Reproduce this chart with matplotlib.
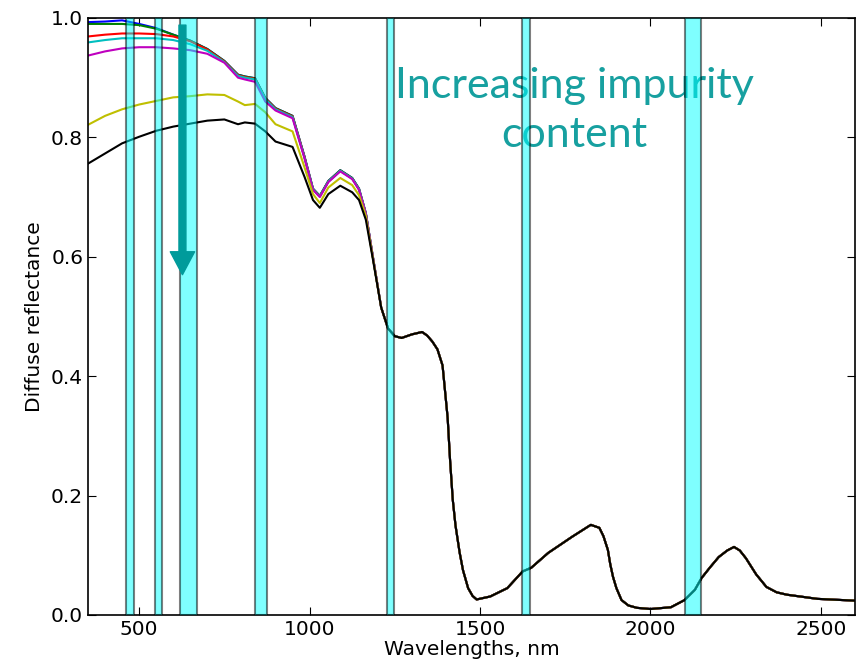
import matplotlib
matplotlib.use("Agg")
import matplotlib.pyplot as plt

# =============================================
# DATA
# =============================================
# visible (split) part of the spectra, 350..1185 nm
wl_head = [350, 400, 450, 500, 550, 600, 650, 700, 750, 790, 810, 840, 870,
           900, 950, 985, 1010, 1030, 1055, 1090, 1125, 1145, 1165, 1185]

blue_head    = [0.993, 0.994, 0.996, 0.990, 0.983, 0.972, 0.962, 0.948, 0.928, 0.905, 0.902, 0.899,
                0.866, 0.849, 0.836, 0.768, 0.714, 0.702, 0.727, 0.745, 0.732, 0.714, 0.673, 0.602]
green_head   = [0.990, 0.990, 0.990, 0.988, 0.982, 0.972, 0.962, 0.948, 0.928, 0.905, 0.902, 0.899,
                0.866, 0.849, 0.836, 0.768, 0.714, 0.702, 0.727, 0.745, 0.732, 0.714, 0.673, 0.602]
red_head     = [0.969, 0.972, 0.974, 0.974, 0.973, 0.969, 0.961, 0.947, 0.927, 0.904, 0.901, 0.898,
                0.865, 0.848, 0.835, 0.767, 0.713, 0.701, 0.726, 0.744, 0.731, 0.713, 0.672, 0.602]
cyan_head    = [0.959, 0.963, 0.966, 0.966, 0.966, 0.963, 0.956, 0.945, 0.926, 0.903, 0.900, 0.897,
                0.864, 0.847, 0.834, 0.766, 0.713, 0.701, 0.726, 0.744, 0.731, 0.713, 0.672, 0.602]
magenta_head = [0.937, 0.944, 0.949, 0.951, 0.951, 0.949, 0.946, 0.940, 0.925, 0.900, 0.897, 0.893,
                0.860, 0.845, 0.832, 0.765, 0.712, 0.700, 0.725, 0.743, 0.730, 0.712, 0.672, 0.602]
yellow_head  = [0.821, 0.836, 0.847, 0.855, 0.861, 0.867, 0.869, 0.872, 0.871, 0.860, 0.854, 0.856,
                0.842, 0.822, 0.810, 0.750, 0.705, 0.690, 0.716, 0.732, 0.720, 0.703, 0.668, 0.600]
black_head   = [0.756, 0.773, 0.790, 0.801, 0.811, 0.818, 0.823, 0.828, 0.830, 0.822, 0.825, 0.823,
                0.810, 0.793, 0.784, 0.734, 0.695, 0.682, 0.705, 0.719, 0.708, 0.695, 0.662, 0.598]

# common part (all samples coincide), 1210..2600 nm
wl_tail = [1210, 1230, 1250, 1270, 1300, 1330, 1345, 1360, 1375, 1390, 1405, 1412, 1420, 1428,
           1440, 1450, 1465, 1478, 1490, 1530, 1580, 1625, 1650, 1700, 1770, 1825, 1850, 1862,
           1875, 1882, 1890, 1900, 1915, 1935, 1960, 2000, 2060, 2100, 2130, 2150, 2175, 2200,
           2225, 2245, 2262, 2280, 2310, 2340, 2370, 2400, 2490, 2600]
refl_tail = [0.515, 0.480, 0.467, 0.464, 0.470, 0.474, 0.468, 0.458, 0.445, 0.418, 0.330, 0.260,
             0.193, 0.150, 0.105, 0.075, 0.045, 0.032, 0.026, 0.031, 0.045, 0.073, 0.079, 0.104,
             0.131, 0.151, 0.146, 0.132, 0.109, 0.085, 0.064, 0.045, 0.025, 0.016, 0.012, 0.010,
             0.013, 0.025, 0.042, 0.062, 0.080, 0.097, 0.108, 0.114, 0.108, 0.095, 0.068, 0.047,
             0.038, 0.034, 0.027, 0.024]

series = [
    ("b", blue_head), ("g", green_head), ("r", red_head), ("c", cyan_head),
    ("m", magenta_head), ("y", yellow_head), ("k", black_head),
]

# selected wavelength bands (nm)
bands = [(460, 484), (546, 568), (620, 670), (840, 876), (1228, 1249), (1624, 1648), (2102, 2148)]

TEAL = "#009b9b"

# =============================================
# GRAF
# =============================================
fig = plt.figure(figsize=(8.57, 6.65), dpi=100)
ax = fig.add_axes([0.1027, 0.0752, 0.895, 0.8978])

for lo, hi in bands:
    ax.axvspan(lo, hi, facecolor="cyan", edgecolor="k", alpha=0.5, linewidth=1.5, zorder=3)

for col, head in series:
    ax.plot(wl_head + wl_tail, head + refl_tail, color=col, linewidth=1.5, zorder=2)

ax.set_xlim(350, 2600)
ax.set_ylim(0.0, 1.0)
ax.set_xticks([500, 1000, 1500, 2000, 2500])
ax.set_yticks([0.0, 0.2, 0.4, 0.6, 0.8, 1.0])
ax.tick_params(direction="in", top=True, right=True, length=6, labelsize=14.5)
for sp in ax.spines.values():
    sp.set_linewidth(1.2)
ax.set_xlabel("Wavelengths, nm", fontsize=14.5, labelpad=1)
ax.set_ylabel("Diffuse reflectance", fontsize=14.5, labelpad=5)

# sipka + popis
ax.annotate("", xy=(627, 0.57), xytext=(627, 0.988),
            arrowprops=dict(arrowstyle="simple,head_length=1.65,head_width=1.75,tail_width=0.5",
                            color=TEAL, shrinkA=0, shrinkB=0, mutation_scale=10),
            zorder=4)
ax.text(1777, 0.845, "Increasing impurity\ncontent", color="#17a0a0", fontsize=31,
        family=["Lato", "DejaVu Sans"], ha="center", va="center", linespacing=1.38, zorder=1)

fig.savefig("out.png", dpi=100)
